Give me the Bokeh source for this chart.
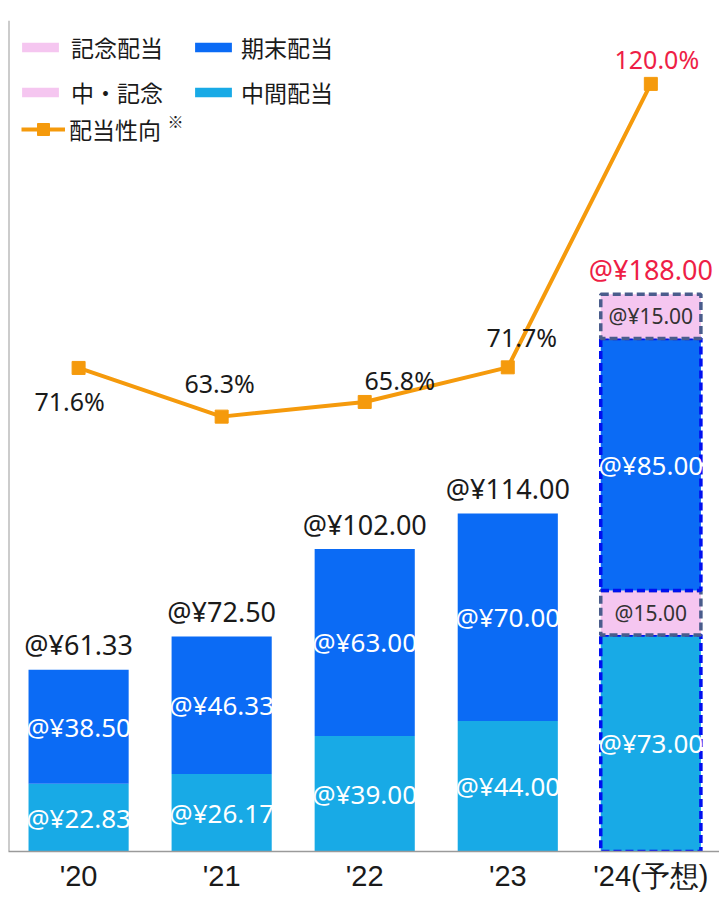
from bokeh.plotting import figure
from bokeh.models import ColumnDataSource, Range1d, Legend, LegendItem, Label, Span, FixedTicker
from bokeh.core.properties import value
from bokeh.embed import file_html
from bokeh.resources import INLINE

# ---- data ----
years = ["'20", "'21", "'22", "'23", "'24(予想)"]
interim = [22.83, 26.17, 39.00, 44.00, 73.00]          # 中間配当
interim_commem = [0, 0, 0, 0, 15.00]                   # 中・記念
year_end = [38.50, 46.33, 63.00, 70.00, 85.00]          # 期末配当
commem = [0, 0, 0, 0, 15.00]                           # 記念配当
totals = [61.33, 72.50, 102.00, 114.00, 188.00]
payout = [71.6, 63.3, 65.8, 71.7, 120.0]               # 配当性向 (%)
forecast = [False, False, False, False, True]

# ---- styles ----
C_INT = "#18AAE6"
C_YE = "#0B6BF5"
C_PINK = "#F5C6F0"
C_ORANGE = "#F59A0C"
C_RED = "#EE1E46"
C_TXT = "#1A1A1A"
NUM_FONT = "Noto Sans"
JP_FONT = "Noto Sans CJK JP"
BAR_W = 0.7
X_START, X_END = -0.49, 4.48

xs = list(range(len(years)))
b0 = [0] * len(xs)
t1 = [a + b for a, b in zip(b0, interim)]
t2 = [a + b for a, b in zip(t1, interim_commem)]
t3 = [a + b for a, b in zip(t2, year_end)]
t4 = [a + b for a, b in zip(t3, commem)]
edge_alpha = [1.0 if f else 0.0 for f in forecast]

src = ColumnDataSource(dict(x=xs, b0=b0, t1=t1, t2=t2, t3=t3, t4=t4, ea=edge_alpha))

p = figure(width=719, height=897, output_backend="svg", toolbar_location=None,
           x_range=Range1d(X_START, X_END), y_range=Range1d(0, 280.3),
           y_axis_location=None, min_border_left=8, min_border_right=0,
           min_border_top=20, min_border_bottom=46, outline_line_color=None)
p.extra_y_ranges = {"pct": Range1d(-10.8, 130.8)}
p.grid.visible = False
p.background_fill_color = "white"
p.border_fill_color = "white"

common = dict(x="x", width=BAR_W, source=src, line_dash="8 4", line_width=3.5, line_alpha="ea")
r_int = p.vbar(bottom="b0", top="t1", fill_color=C_INT, line_color="#0010F0", **common)
r_icm = p.vbar(bottom="t1", top="t2", fill_color=C_PINK, line_color="#4A5C8C", **common)
r_ye = p.vbar(bottom="t2", top="t3", fill_color=C_YE, line_color="#0010F0", **common)
r_cm = p.vbar(bottom="t3", top="t4", fill_color=C_PINK, line_color="#4A5C8C", **common)

# ---- segment labels ----
def seg_labels(vals, bottoms, fmt):
    lx, ly, lt = [], [], []
    for xi, v, b in zip(xs, vals, bottoms):
        if v > 0:
            lx.append(xi); ly.append(b + v / 2); lt.append(fmt.format(v))
    return dict(x=lx, y=ly, t=lt)

for vals, bots, fmt, col, size in [
        (interim, b0, "@¥{:.2f}", "white", "26px"),
        (year_end, t2, "@¥{:.2f}", "white", "26px"),
        (interim_commem, t1, "@{:.2f}", "#333333", "21px"),
        (commem, t3, "@¥{:.2f}", "#333333", "21px")]:
    s = ColumnDataSource(seg_labels(vals, bots, fmt))
    p.text(x="x", y="y", text="t", source=s, text_align="center", text_baseline="middle",
           text_font=value(NUM_FONT), text_font_size=size, text_color=col)

# totals
tot_src = ColumnDataSource(dict(x=xs, y=totals, t=["@¥{:.2f}".format(v) for v in totals],
                                c=[C_RED if f else C_TXT for f in forecast]))
p.text(x="x", y="y", text="t", source=tot_src, text_align="center", text_baseline="middle",
       y_offset=-25, text_font=value(NUM_FONT), text_font_size="27px", text_color="c")

# ---- payout line ----
r_line = p.line(xs, payout, y_range_name="pct", line_color=C_ORANGE, line_width=4)
r_mk = p.scatter(xs, payout, y_range_name="pct", marker="square", size=13,
                 fill_color=C_ORANGE, line_color=C_ORANGE)
pct_xoff = [-9, -2, 35, 14, 6]
pct_yoff = [33, -34, -22, -30, -25]
pct_src = ColumnDataSource(dict(x=xs, y=payout, t=["{:.1f}%".format(v) for v in payout],
                                xo=pct_xoff, yo=pct_yoff,
                                c=[C_RED if f else C_TXT for f in forecast]))
p.text(x="x", y="y", text="t", source=pct_src, y_range_name="pct", x_offset="xo", y_offset="yo",
       text_align="center", text_baseline="middle", text_font=value(NUM_FONT),
       text_font_size="25px", text_color="c")

# ---- axes ----
p.xaxis.ticker = FixedTicker(ticks=xs)
p.xaxis.major_label_overrides = {i: y for i, y in zip(xs, years)}
p.xaxis.major_tick_line_color = None
p.xaxis.minor_tick_line_color = None
p.xaxis.major_tick_out = 0
p.xaxis.major_tick_in = 0
p.xaxis.minor_tick_out = 0
p.xaxis.axis_line_color = "#9A9A9A"
p.xaxis.axis_line_width = 1.5
p.xaxis.major_label_standoff = 8
p.xaxis.major_label_text_font = "Liberation Sans"
p.xaxis.major_label_text_font_style = "normal"
p.xaxis.major_label_text_font_size = "29px"
p.xaxis.major_label_text_color = C_TXT
p.add_layout(Span(location=X_START, dimension="height", line_color="#9A9A9A", line_width=2))

# ---- legends ----
leg_style = dict(padding=0, margin=0, border_line_alpha=0, background_fill_alpha=0,
                 label_text_font=JP_FONT, label_text_font_size="23px", label_text_color=C_TXT,
                 label_height=34, spacing=11)
legA = Legend(items=[LegendItem(label="記念配当", renderers=[r_cm]),
                     LegendItem(label="中・記念", renderers=[r_icm])],
              location=(9, 742), glyph_width=46, glyph_height=12, label_standoff=8, **leg_style)
legB = Legend(items=[LegendItem(label="期末配当", renderers=[r_ye]),
                     LegendItem(label="中間配当", renderers=[r_int])],
              location=(182, 742), glyph_width=46, glyph_height=12, label_standoff=5, **leg_style)
legC = Legend(items=[LegendItem(label="配当性向", renderers=[r_line, r_mk])],
              location=(13, 705), glyph_width=44, glyph_height=30, label_standoff=4, **leg_style)
for lg in (legA, legB, legC):
    p.add_layout(lg)
p.add_layout(Label(x=167, y=731, x_units="screen", y_units="screen", text="※",
                   text_font=JP_FONT, text_font_size="16px", text_color=C_TXT,
                   text_align="center", text_baseline="middle"))

open("out.html", "w").write(file_html(p, INLINE))
